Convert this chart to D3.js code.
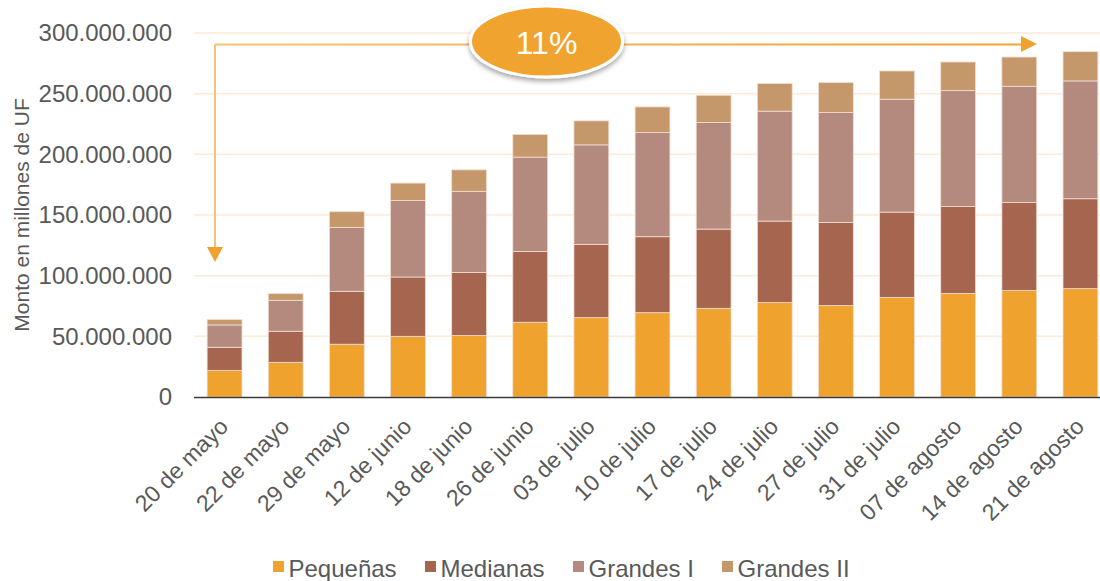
<!DOCTYPE html>
<html>
<head>
<meta charset="utf-8">
<script src="https://cdn.jsdelivr.net/npm/d3@7"></script>
<style>
  html, body { margin: 0; padding: 0; background: #fff; }
  svg { display: block; font-family: "Liberation Sans", Arial, sans-serif; }
</style>
</head>
<body>
<svg id="chart" width="1100" height="581"></svg>
<script>
const categories = ["20 de mayo","22 de mayo","29 de mayo","12 de junio","18 de junio","26 de junio","03 de julio","10 de julio","17 de julio","24 de julio","27 de julio","31 de julio","07 de agosto","14 de agosto","21 de agosto"];
const seriesNames = ["Pequeñas","Medianas","Grandes I","Grandes II"];
const pequenas  = [21800000,28600000,43500000,50000000,50600000,61600000,65400000,69500000,73100000,77800000,75300000,82100000,85400000,87700000,89300000];
const medianas  = [19200000,25600000,43600000,48900000,52100000,58400000,60400000,62600000,65300000,67200000,68600000,70300000,71600000,72600000,74100000];
const grandesI  = [18400000,25500000,52700000,63100000,66800000,77700000,82000000,85800000,87800000,90600000,90500000,93000000,95500000,95800000,97100000];
const grandesII = [4400000,5500000,12900000,14300000,17700000,18600000,19800000,21200000,22500000,22700000,24700000,23300000,23600000,24100000,24100000];
const yTicks = [0,50000000,100000000,150000000,200000000,250000000,300000000];
const colors = ["#F0A22E","#A5654E","#B58A7E","#C4986A"];
const annotationLabel = "11%";
const yTitle = "Monto en millones de UF";

const rows = categories.map((c,i) => ({cat:c, "Pequeñas":pequenas[i], "Medianas":medianas[i], "Grandes I":grandesI[i], "Grandes II":grandesII[i]}));

const svg = d3.select("#chart");
const x = d3.scaleBand().domain(categories).range([194,1111]).paddingInner(0.43).paddingOuter(0.215);
const y = d3.scaleLinear().domain([0,300000000]).range([397,33]);
const fmt = v => d3.format(",")(v).replace(/,/g,".");

// defs
const defs = svg.append("defs");
const grad = defs.append("linearGradient").attr("id","hgrad").attr("gradientUnits","userSpaceOnUse")
  .attr("x1",215).attr("x2",1037).attr("y1",0).attr("y2",0);
grad.append("stop").attr("offset","0%").attr("stop-color","#F8C272");
grad.append("stop").attr("offset","100%").attr("stop-color","#F0A22E");
const filt = defs.append("filter").attr("id","shadow").attr("x","-20%").attr("y","-30%").attr("width","140%").attr("height","170%");
filt.append("feDropShadow").attr("dx",0).attr("dy",3).attr("stdDeviation",2.5).attr("flood-color","#000").attr("flood-opacity",0.35);

// gridlines
svg.append("g").selectAll("line").data(yTicks.filter(t=>t>0)).join("line")
  .attr("x1",194).attr("x2",1100).attr("y1",d=>y(d)).attr("y2",d=>y(d))
  .attr("stroke","#FCEBD8").attr("stroke-width",1.5);

// y tick labels
svg.append("g").selectAll("text").data(yTicks).join("text")
  .attr("x",172).attr("y",d=>y(d)).attr("dy","0.35em")
  .attr("text-anchor","end").attr("fill","#595959")
  .attr("font-size","24px")
  .text(d=>fmt(d));

// y title
svg.append("text")
  .attr("transform","translate(29,215) rotate(-90)")
  .attr("text-anchor","middle").attr("fill","#595959").attr("font-size","21px")
  .text(yTitle);

// bars
const stack = d3.stack().keys(seriesNames)(rows);
svg.append("g").selectAll("g").data(stack).join("g")
  .attr("fill",(d,i)=>colors[i])
  .selectAll("rect").data(d=>d).join("rect")
  .attr("x",d=>x(d.data.cat)).attr("width",x.bandwidth())
  .attr("y",d=>y(d[1])).attr("height",d=>y(d[0])-y(d[1]))
  .attr("stroke","#F3DDD2").attr("stroke-width",0.8);

// x axis line
svg.append("line").attr("x1",194).attr("x2",1100).attr("y1",397.5).attr("y2",397.5)
  .attr("stroke","#3a3a3a").attr("stroke-width",1.6);

// x labels
svg.append("g").selectAll("text").data(categories).join("text")
  .attr("transform",d=>`translate(${x(d)+x.bandwidth()/2+5},428) rotate(-45)`)
  .attr("text-anchor","end").attr("fill","#595959")
  .attr("font-size","23px")
  .text(d=>d);

// annotation arrows
svg.append("path").attr("d","M215,44.5 L215,250").attr("stroke","#F8C272").attr("stroke-width",2).attr("fill","none");
svg.append("path").attr("d","M207,247 L223,247 L215,262 Z").attr("fill","#F0A22E");
svg.append("path").attr("d","M215,44.5 L1024,44.5").attr("stroke","url(#hgrad)").attr("stroke-width",2).attr("fill","none");
svg.append("path").attr("d","M1021,36 L1037,44 L1021,52 Z").attr("fill","#F0A22E");

// ellipse badge
svg.append("ellipse").attr("cx",546.5).attr("cy",41.5).attr("rx",76).attr("ry",35.5)
  .attr("fill","#F0A32F").attr("stroke","#fff").attr("stroke-width",3).attr("filter","url(#shadow)");
svg.append("text").attr("x",546.5).attr("y",43).attr("dy","0.35em").attr("text-anchor","middle")
  .attr("fill","#fff").attr("font-size","32px").text(annotationLabel);

// legend
const legendX = [273,425,573,722];
const lg = svg.append("g").selectAll("g").data(seriesNames).join("g")
  .attr("transform",(d,i)=>`translate(${legendX[i]},0)`);
lg.append("rect").attr("x",0).attr("y",561).attr("width",11).attr("height",11).attr("fill",(d,i)=>colors[i]);
lg.append("text").attr("x",15.5).attr("y",577).attr("fill","#595959").attr("font-size","24px").text(d=>d);
</script>
</body>
</html>
